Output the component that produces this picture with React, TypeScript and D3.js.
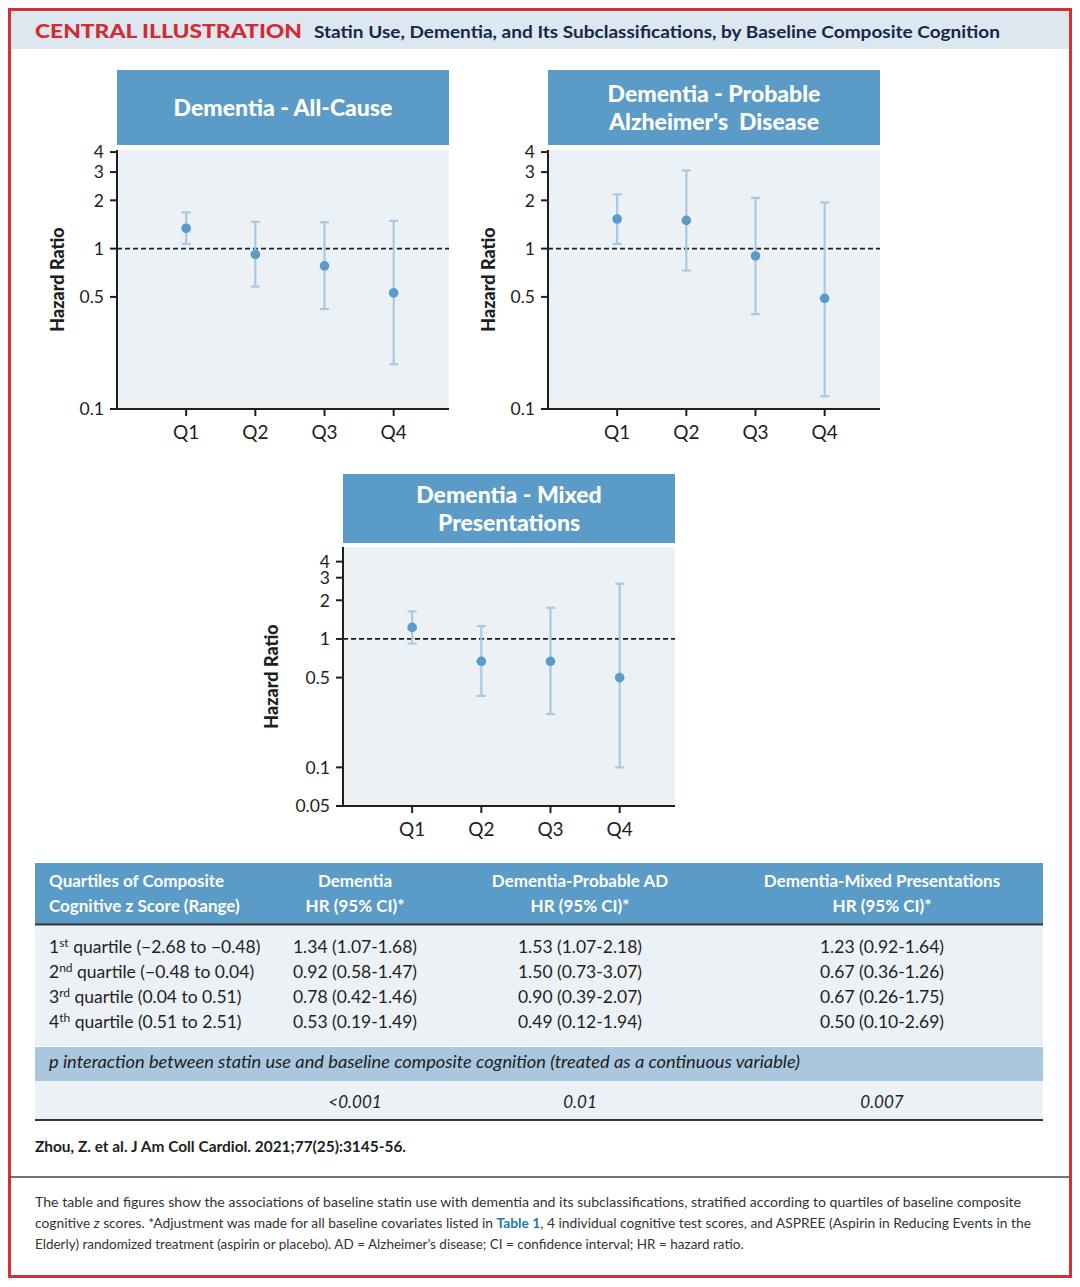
import { scaleLinear, scaleLog } from "d3";

const quartiles = ["Q1", "Q2", "Q3", "Q4"];

const allCauseHR = [1.34, 0.92, 0.78, 0.53];
const allCauseLow = [1.07, 0.58, 0.42, 0.19];
const allCauseHigh = [1.68, 1.47, 1.46, 1.49];

const probableAdHR = [1.53, 1.5, 0.9, 0.49];
const probableAdLow = [1.07, 0.73, 0.39, 0.12];
const probableAdHigh = [2.18, 3.07, 2.07, 1.94];

const mixedHR = [1.23, 0.67, 0.67, 0.5];
const mixedLow = [0.92, 0.36, 0.26, 0.1];
const mixedHigh = [1.64, 1.26, 1.75, 2.69];

const yTicksMain = [0.1, 0.5, 1, 2, 3, 4];
const yTicksMixed = [0.05, 0.1, 0.5, 1, 2, 3, 4];

const quartileOrdinals = ["1", "2", "3", "4"];
const quartileSuffixes = ["st", "nd", "rd", "th"];
const quartileRanges = ["(\u22122.68 to \u22120.48)", "(\u22120.48 to 0.04)", "(0.04 to 0.51)", "(0.51 to 2.51)"];
const pInteraction = ["<0.001", "0.01", "0.007"];

const FONT = "Lato, 'Open Sans', sans-serif";
const BLUE = "#5a9bc8";
const PALE = "#ecf1f6";
const BAR = "#a9c9e3";
const INK = "#1e1e1e";

type PanelProps = {
  left: number;
  right: number;
  titleTop: number;
  titleBottom: number;
  plotTop: number;
  plotBottom: number;
  yMin: number;
  yMax: number;
  ticks: number[];
  titleLines: string[];
  hr: number[];
  low: number[];
  high: number[];
};

function ForestPanel(p: PanelProps) {
  const x = scaleLinear().domain([0, 4.8]).range([p.left, p.right]);
  const y = scaleLog().domain([p.yMin, p.yMax]).range([p.plotBottom, p.plotTop]);
  const titleMid = (p.titleTop + p.titleBottom) / 2;
  const n = p.titleLines.length;

  return (
    <g>
      {/* title box */}
      <rect x={p.left} y={p.titleTop} width={p.right - p.left} height={p.titleBottom - p.titleTop} fill={BLUE} />
      {p.titleLines.map((line, i) => (
        <text
          key={i}
          x={(p.left + p.right) / 2}
          y={titleMid + 8 + (i - (n - 1) / 2) * 28}
          textAnchor="middle"
          fill="#fff"
          fontSize={23}
          fontWeight={900}
          style={{ whiteSpace: "pre" }}
        >
          {line}
        </text>
      ))}

      {/* plot background */}
      <rect x={p.left} y={p.plotTop} width={p.right - p.left} height={p.plotBottom - p.plotTop} fill={PALE} />

      {/* reference line at HR = 1 */}
      <line x1={p.left} x2={p.right} y1={y(1)} y2={y(1)} stroke={INK} strokeWidth={1.8} strokeDasharray="5,3" />

      {/* error bars */}
      {quartiles.map((q, i) => {
        const cx = x(i + 1);
        return (
          <g key={q} stroke={BAR} strokeWidth={2.2}>
            <line x1={cx} x2={cx} y1={y(p.low[i])} y2={y(p.high[i])} />
            <line x1={cx - 4.5} x2={cx + 4.5} y1={y(p.low[i])} y2={y(p.low[i])} />
            <line x1={cx - 4.5} x2={cx + 4.5} y1={y(p.high[i])} y2={y(p.high[i])} />
          </g>
        );
      })}
      {quartiles.map((q, i) => (
        <circle key={q} cx={x(i + 1)} cy={y(p.hr[i])} r={4.8} fill={BLUE} />
      ))}

      {/* axes */}
      <line x1={p.left} x2={p.left} y1={p.plotTop} y2={p.plotBottom} stroke={INK} strokeWidth={2} />
      <line x1={p.left - 7} x2={p.right} y1={p.plotBottom} y2={p.plotBottom} stroke={INK} strokeWidth={2} />
      {p.ticks.map((t) => (
        <g key={t}>
          <line x1={p.left - 7} x2={p.left} y1={y(t)} y2={y(t)} stroke={INK} strokeWidth={2} />
          <text x={p.left - 13} y={y(t)} dy="0.36em" textAnchor="end" fontSize={17.5} fill={INK}>
            {t}
          </text>
        </g>
      ))}
      {quartiles.map((q, i) => (
        <g key={q}>
          <line x1={x(i + 1)} x2={x(i + 1)} y1={p.plotBottom} y2={p.plotBottom + 7} stroke={INK} strokeWidth={2} />
          <text x={x(i + 1)} y={p.plotBottom + 30} textAnchor="middle" fontSize={19} fill={INK}>
            {q}
          </text>
        </g>
      ))}
      <text
        transform={`translate(${p.left - (p.ticks[0] < 0.1 ? 71 : 59)},${(p.plotTop + p.plotBottom) / 2}) rotate(-90)`}
        dy="0.35em"
        textAnchor="middle"
        fontSize={18}
        fontWeight={900}
        fill={INK}
      >
        Hazard Ratio
      </text>
    </g>
  );
}

const fmt = (v: number) => v.toFixed(2);
const hrText = (hr: number[], lo: number[], hi: number[], i: number) => `${fmt(hr[i])} (${fmt(lo[i])}-${fmt(hi[i])})`;

export default function App() {
  const colCenters = [355, 580, 882];
  const rowY = [953, 978, 1003, 1028];
  const series = [
    [allCauseHR, allCauseLow, allCauseHigh],
    [probableAdHR, probableAdLow, probableAdHigh],
    [mixedHR, mixedLow, mixedHigh],
  ];

  return (
    <>
      <style>{"body{margin:0}"}</style>
      <svg width={1080} height={1287} fontFamily={FONT} style={{ display: "block", background: "#fff" }}>
        {/* frame + header */}
        <rect x={10} y={10} width={1059} height={39} fill="#dde7f0" />
        <rect x={9.5} y={9.5} width={1061} height={1267} fill="none" stroke="#d32f35" strokeWidth={3} />
        <text x={35} y={38} fontSize={18} fontWeight={900} fill="#d42a31" textLength={267} lengthAdjust="spacingAndGlyphs">
          CENTRAL ILLUSTRATION
        </text>
        <text x={314} y={38} fontSize={17} fontWeight={700} fill="#14284b" textLength={686} lengthAdjust="spacingAndGlyphs">
          Statin Use, Dementia, and Its Subclassifications, by Baseline Composite Cognition
        </text>

        <ForestPanel
          left={117} right={449} titleTop={70} titleBottom={145} plotTop={150} plotBottom={409}
          yMin={0.1} yMax={4.12} ticks={yTicksMain} titleLines={["Dementia - All-Cause"]}
          hr={allCauseHR} low={allCauseLow} high={allCauseHigh}
        />
        <ForestPanel
          left={548} right={880} titleTop={70} titleBottom={145} plotTop={150} plotBottom={409}
          yMin={0.1} yMax={4.12} ticks={yTicksMain} titleLines={["Dementia - Probable", "Alzheimer's  Disease"]}
          hr={probableAdHR} low={probableAdLow} high={probableAdHigh}
        />
        <ForestPanel
          left={343} right={675} titleTop={474} titleBottom={543} plotTop={547} plotBottom={806}
          yMin={0.05} yMax={5.2} ticks={yTicksMixed} titleLines={["Dementia - Mixed", "Presentations"]}
          hr={mixedHR} low={mixedLow} high={mixedHigh}
        />

        {/* table */}
        <rect x={35} y={863} width={1008} height={61} fill={BLUE} />
        <line x1={35} x2={1043} y1={924.5} y2={924.5} stroke="#333" strokeWidth={2} />
        <rect x={35} y={926} width={1008} height={120} fill={PALE} />
        <g fill="#fff" fontSize={17} fontWeight={700}>
          <text x={49} y={887}>Quartiles of Composite</text>
          <text x={49} y={912}>Cognitive z Score (Range)</text>
          <text x={colCenters[0]} y={887} textAnchor="middle">Dementia</text>
          <text x={colCenters[1]} y={887} textAnchor="middle">Dementia-Probable AD</text>
          <text x={colCenters[2]} y={887} textAnchor="middle">Dementia-Mixed Presentations</text>
          {colCenters.map((c) => (
            <text key={c} x={c} y={912} textAnchor="middle">HR (95% CI)*</text>
          ))}
        </g>
        <g fill={INK} fontSize={17.5}>
          {quartileOrdinals.map((o, i) => (
            <text key={o} x={49} y={rowY[i]}>
              {o}
              <tspan dy={-6} fontSize={12}>{quartileSuffixes[i]}</tspan>
              <tspan dy={6}>{` quartile ${quartileRanges[i]}`}</tspan>
            </text>
          ))}
          {series.map((s, c) =>
            quartiles.map((q, i) => (
              <text key={`${c}-${q}`} x={colCenters[c]} y={rowY[i]} textAnchor="middle">
                {hrText(s[0], s[1], s[2], i)}
              </text>
            ))
          )}
        </g>
        <rect x={35} y={1047} width={1008} height={34} fill="#a9c7df" />
        <text x={49} y={1068} fontSize={17} fontStyle="italic" fill={INK} textLength={751} lengthAdjust="spacingAndGlyphs">
          p interaction between statin use and baseline composite cognition (treated as a continuous variable)
        </text>
        <rect x={35} y={1081} width={1008} height={38} fill={PALE} />
        {pInteraction.map((v, i) => (
          <text key={v} x={colCenters[i]} y={1108} textAnchor="middle" fontSize={17} fontStyle="italic" fill={INK}>
            {v}
          </text>
        ))}
        <line x1={35} x2={1043} y1={1120} y2={1120} stroke="#333" strokeWidth={2} />

        <text x={35} y={1152} fontSize={15} fontWeight={700} fill={INK} textLength={371} lengthAdjust="spacingAndGlyphs">
          Zhou, Z. et al. J Am Coll Cardiol. 2021;77(25):3145-56.
        </text>
        <line x1={10} x2={1069} y1={1177} y2={1177} stroke="#444" strokeWidth={1.5} />

        {/* caption */}
        <g fontSize={13.5} fill="#333">
          <text x={35} y={1207} textLength={986} lengthAdjust="spacingAndGlyphs">
            The table and figures show the associations of baseline statin use with dementia and its subclassifications, stratified according to quartiles of baseline composite
          </text>
          <text x={35} y={1228} textLength={996} lengthAdjust="spacingAndGlyphs">
            cognitive <tspan fontStyle="italic">z</tspan> scores. *Adjustment was made for all baseline covariates listed in{" "}
            <tspan fill="#1f77b0" fontWeight={700}>Table 1</tspan>, 4 individual cognitive test scores, and ASPREE (Aspirin in Reducing Events in the
          </text>
          <text x={35} y={1249}>
            Elderly) randomized treatment (aspirin or placebo). AD = Alzheimer’s disease; CI = confidence interval; HR = hazard ratio.
          </text>
        </g>
      </svg>
    </>
  );
}
